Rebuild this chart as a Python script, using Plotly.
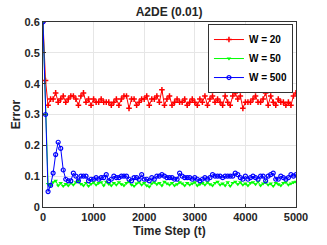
import plotly.graph_objects as go

t_steps = list(range(0, 5001, 50))

err_w20 = [0.60, 0.41, 0.33, 0.35, 0.35, 0.37, 0.34, 0.35, 0.36, 0.34,
           0.35, 0.36, 0.36, 0.35, 0.33, 0.36, 0.37, 0.34, 0.35, 0.33,
           0.35, 0.34, 0.34, 0.35, 0.34, 0.34, 0.34, 0.33, 0.34, 0.35,
           0.33, 0.35, 0.36, 0.36, 0.32, 0.35, 0.35, 0.33, 0.34, 0.35,
           0.35, 0.36, 0.33, 0.35, 0.35, 0.36, 0.34, 0.38, 0.33, 0.35,
           0.36, 0.33, 0.34, 0.35, 0.34, 0.34, 0.35, 0.33, 0.34, 0.35,
           0.34, 0.33, 0.35, 0.34, 0.36, 0.33, 0.35, 0.36, 0.34, 0.35,
           0.34, 0.33, 0.36, 0.34, 0.33, 0.36, 0.37, 0.35, 0.36, 0.32,
           0.34, 0.34, 0.34, 0.35, 0.36, 0.34, 0.34, 0.35, 0.37, 0.33,
           0.36, 0.34, 0.33, 0.35, 0.34, 0.34, 0.33, 0.34, 0.33, 0.36,
           0.37]

err_w50 = [0.60, 0.30, 0.075, 0.070, 0.080, 0.085, 0.070, 0.078, 0.068, 0.075,
           0.070, 0.078, 0.072, 0.080, 0.085, 0.075, 0.070, 0.078, 0.068, 0.075,
           0.080, 0.072, 0.078, 0.080, 0.070, 0.082, 0.075, 0.070, 0.078, 0.072,
           0.080, 0.074, 0.070, 0.078, 0.082, 0.072, 0.068, 0.076, 0.080, 0.072,
           0.078, 0.070, 0.066, 0.076, 0.080, 0.074, 0.078, 0.070, 0.082, 0.076,
           0.072, 0.078, 0.070, 0.074, 0.080, 0.076, 0.070, 0.078, 0.072, 0.076,
           0.080, 0.070, 0.074, 0.078, 0.072, 0.080, 0.074, 0.070, 0.078, 0.082,
           0.072, 0.076, 0.070, 0.080, 0.068, 0.078, 0.082, 0.074, 0.080, 0.072,
           0.076, 0.070, 0.078, 0.080, 0.074, 0.082, 0.070, 0.076, 0.080, 0.072,
           0.076, 0.068, 0.078, 0.074, 0.070, 0.078, 0.080, 0.072, 0.076, 0.080,
           0.082]

err_w500 = [0.60, 0.30, 0.05, 0.07, 0.11, 0.17, 0.21, 0.19, 0.12, 0.09,
            0.085, 0.085, 0.11, 0.10, 0.085, 0.10, 0.10, 0.10, 0.085, 0.09,
            0.09, 0.095, 0.09, 0.095, 0.095, 0.105, 0.085, 0.09, 0.10, 0.095,
            0.095, 0.10, 0.10, 0.10, 0.09, 0.085, 0.095, 0.095, 0.09, 0.105,
            0.09, 0.09, 0.085, 0.095, 0.09, 0.10, 0.10, 0.105, 0.10, 0.095,
            0.095, 0.095, 0.09, 0.09, 0.11, 0.10, 0.095, 0.095, 0.095, 0.09,
            0.095, 0.09, 0.085, 0.09, 0.095, 0.09, 0.095, 0.105, 0.10, 0.10,
            0.10, 0.095, 0.10, 0.10, 0.10, 0.10, 0.11, 0.105, 0.095, 0.09,
            0.10, 0.09, 0.095, 0.10, 0.095, 0.09, 0.10, 0.10, 0.085, 0.10,
            0.105, 0.11, 0.09, 0.09, 0.10, 0.095, 0.09, 0.095, 0.105, 0.10,
            0.105]

series_names = ["W = 20", "W = 50", "W = 500"]
x_ticks = [0, 1000, 2000, 3000, 4000, 5000]
y_ticks = [0, 0.1, 0.2, 0.3, 0.4, 0.5, 0.6]
y_tick_labels = ["0", "0.1", "0.2", "0.3", "0.4", "0.5", "0.6"]

FONT = "Liberation Sans"

fig = go.Figure()
fig.add_trace(go.Scatter(
    x=t_steps, y=err_w20, name=series_names[0], mode="lines+markers",
    line=dict(color="#ff0000", width=1),
    marker=dict(symbol="cross-thin", size=4, color="#ff0000",
                line=dict(color="#ff0000", width=1.5))))
fig.add_trace(go.Scatter(
    x=t_steps, y=err_w50, name=series_names[1], mode="lines+markers",
    line=dict(color="#00ff00", width=1),
    marker=dict(symbol="triangle-down", size=4, color="#00ff00")))
fig.add_trace(go.Scatter(
    x=t_steps, y=err_w500, name=series_names[2], mode="lines+markers",
    line=dict(color="#0000ff", width=1),
    marker=dict(symbol="circle-open", size=4, color="#0000ff",
                line=dict(color="#0000ff", width=1.2))))

axis_common = dict(
    showgrid=True, gridcolor="#e6e6e6", gridwidth=1,
    showline=True, linecolor="#333333", linewidth=1, mirror=True,
    ticks="inside", ticklen=3, tickcolor="#333333",
    zeroline=False, automargin=False,
    tickfont=dict(family=FONT, size=11, color="#262626", weight="bold"),
)

fig.update_layout(
    width=327, height=245,
    margin=dict(l=43, r=31, t=22, b=38),
    paper_bgcolor="white", plot_bgcolor="white",
    title=dict(text="A2DE (0.01)", x=0.517, xanchor="center", y=0.951, yanchor="middle",
               font=dict(family=FONT, size=12, color="#262626", weight="bold")),
    xaxis=dict(range=[0, 5000], tickvals=x_ticks,
               title=dict(text="Time Step (t)", standoff=4,
                          font=dict(family=FONT, size=12, color="#262626", weight="bold")),
               **axis_common),
    yaxis=dict(range=[0, 0.6], tickvals=y_ticks, ticktext=y_tick_labels,
               title=dict(text="Error", standoff=1,
                          font=dict(family=FONT, size=12, color="#262626", weight="bold")),
               **axis_common),
    legend=dict(x=0.988, y=0.989, xanchor="right", yanchor="top",
                bgcolor="white", bordercolor="#333333", borderwidth=1,
                font=dict(family=FONT, size=10, color="#000000", weight="bold"),
                itemwidth=30, tracegroupgap=0),
    showlegend=True,
)

fig.write_html("out.html", config={"displayModeBar": False},
               post_script="document.body.style.margin='0';")
